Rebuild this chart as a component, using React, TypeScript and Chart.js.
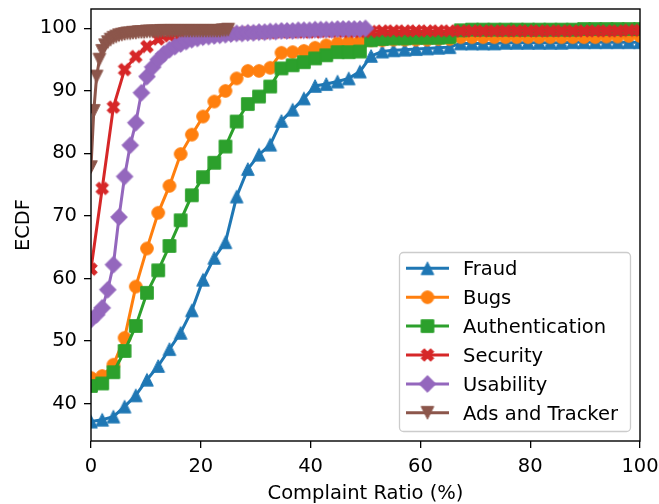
import React, { useEffect, useRef } from 'react';
import { Chart, registerables } from 'chart.js';

Chart.register(...registerables);

// x grids (complaint ratio %, 50 evaluation points per category)
const xFull = [0, 2.04, 4.08, 6.12, 8.16, 10.2, 12.24, 14.29, 16.33, 18.37, 20.41, 22.45, 24.49, 26.53, 28.57, 30.61, 32.65, 34.69, 36.73, 38.78, 40.82, 42.86, 44.9, 46.94, 48.98, 51.02, 53.06, 55.1, 57.14, 59.18, 61.22, 63.27, 65.31, 67.35, 69.39, 71.43, 73.47, 75.51, 77.55, 79.59, 81.63, 83.67, 85.71, 87.76, 89.8, 91.84, 93.88, 95.92, 97.96, 100];
const xUsability = [0, 1.02, 2.04, 3.06, 4.08, 5.1, 6.12, 7.14, 8.16, 9.18, 10.2, 11.22, 12.24, 13.27, 14.29, 15.31, 16.33, 17.35, 18.37, 19.39, 20.41, 21.43, 22.45, 23.47, 24.49, 25.51, 26.53, 27.55, 28.57, 29.59, 30.61, 31.63, 32.65, 33.67, 34.69, 35.71, 36.73, 37.76, 38.78, 39.8, 40.82, 41.84, 42.86, 43.88, 44.9, 45.92, 46.94, 47.96, 48.98, 50];
const xAds = [0, 0.51, 1.02, 1.53, 2.04, 2.55, 3.06, 3.57, 4.08, 4.59, 5.1, 5.61, 6.12, 6.63, 7.14, 7.65, 8.16, 8.67, 9.18, 9.69, 10.2, 10.71, 11.22, 11.73, 12.24, 12.76, 13.27, 13.78, 14.29, 14.8, 15.31, 15.82, 16.33, 16.84, 17.35, 17.86, 18.37, 18.88, 19.39, 19.9, 20.41, 20.92, 21.43, 21.94, 22.45, 22.96, 23.47, 23.98, 24.49, 25];

// ECDF values (%)
const fraud = [37.1, 37.4, 37.9, 39.5, 41.3, 43.8, 46.0, 48.7, 51.3, 54.9, 59.8, 63.3, 65.8, 73.1, 77.5, 79.8, 81.4, 85.2, 87.0, 88.8, 90.8, 91.1, 91.5, 92.0, 93.1, 95.6, 96.3, 96.5, 96.6, 96.7, 96.8, 96.9, 97.0, 97.6, 97.6, 97.6, 97.6, 97.7, 97.7, 97.7, 97.7, 97.7, 97.7, 97.8, 97.8, 97.8, 97.8, 97.8, 97.8, 97.8];
const bugs = [44.1, 44.4, 46.2, 50.5, 58.7, 64.8, 70.5, 74.8, 79.9, 83.0, 85.9, 88.3, 90.0, 92.0, 93.2, 93.2, 93.7, 96.1, 96.2, 96.4, 96.9, 97.3, 97.6, 97.8, 97.9, 98.1, 98.1, 98.2, 98.2, 98.2, 98.2, 98.3, 98.3, 98.6, 98.6, 98.6, 98.6, 98.6, 98.6, 98.6, 98.6, 98.6, 98.6, 98.6, 98.6, 98.6, 98.7, 98.7, 98.8, 98.8];
const authentication = [42.8, 43.2, 45.0, 48.4, 52.4, 57.7, 61.3, 65.2, 69.3, 73.3, 76.2, 78.5, 81.1, 85.1, 87.9, 89.1, 90.7, 93.6, 94.1, 94.6, 95.2, 95.7, 96.2, 96.2, 96.3, 98.1, 98.3, 98.4, 98.4, 98.5, 98.5, 98.5, 98.6, 99.7, 99.8, 99.8, 99.8, 99.8, 99.8, 99.8, 99.8, 99.8, 99.8, 99.8, 99.9, 99.9, 99.9, 99.9, 99.9, 99.9];
const security = [61.5, 74.4, 87.4, 93.4, 95.5, 97.1, 98.3, 98.8, 98.9, 99.0, 99.1, 99.1, 99.2, 99.2, 99.3, 99.3, 99.3, 99.4, 99.4, 99.4, 99.4, 99.5, 99.5, 99.5, 99.5, 99.5, 99.6, 99.6, 99.6, 99.6, 99.6, 99.6, 99.6, 99.6, 99.6, 99.6, 99.6, 99.6, 99.6, 99.6, 99.6, 99.6, 99.6, 99.6, 99.6, 99.6, 99.6, 99.6, 99.7, 99.7];
const usability = [53.4, 54.2, 55.3, 58.2, 62.2, 69.8, 76.3, 81.3, 84.9, 89.7, 92.3, 93.8, 95.0, 95.9, 96.6, 97.1, 97.5, 97.9, 98.2, 98.4, 98.6, 98.7, 98.8, 98.9, 99.0, 99.1, 99.2, 99.2, 99.3, 99.3, 99.4, 99.4, 99.5, 99.5, 99.6, 99.6, 99.6, 99.7, 99.7, 99.7, 99.8, 99.8, 99.8, 99.8, 99.9, 99.9, 99.9, 99.9, 99.9, 100];
const adsTracker = [77.8, 86.8, 92.3, 95.0, 96.4, 97.3, 97.8, 98.2, 98.5, 98.7, 98.9, 99.0, 99.1, 99.2, 99.2, 99.3, 99.3, 99.4, 99.4, 99.4, 99.5, 99.5, 99.5, 99.5, 99.5, 99.6, 99.6, 99.6, 99.6, 99.6, 99.6, 99.6, 99.6, 99.6, 99.6, 99.6, 99.6, 99.6, 99.6, 99.6, 99.6, 99.6, 99.6, 99.6, 99.6, 99.6, 99.6, 99.7, 99.7, 99.8];

const seriesNames = ['Fraud', 'Bugs', 'Authentication', 'Security', 'Usability', 'Ads and Tracker'];
const seriesX = [xFull, xFull, xFull, xFull, xUsability, xAds];
const seriesY = [fraud, bugs, authentication, security, usability, adsTracker];
const seriesColors = ['#1f77b4', '#ff7f0e', '#2ca02c', '#d62728', '#9467bd', '#8c564b'];
const seriesMarkers = ['triUp', 'circle', 'square', 'xFilled', 'diamond', 'triDown'];

const xTicks = [0, 20, 40, 60, 80, 100];
const yTicks = [40, 50, 60, 70, 80, 90, 100];
const xLabel = 'Complaint Ratio (%)';
const yLabel = 'ECDF';

const FONT = '"DejaVu Sans", sans-serif';
const FS = 19.5;
const MS = 12.6;

function makeMarker(shape: string, color: string): HTMLCanvasElement {
  const S = 22;
  const c = document.createElement('canvas');
  c.width = S;
  c.height = S;
  const g = c.getContext('2d')!;
  g.translate(S / 2, S / 2);
  g.fillStyle = color;
  g.strokeStyle = color;
  g.lineWidth = 1;
  g.lineJoin = 'miter';
  const h = MS / 2;
  g.beginPath();
  if (shape === 'circle') {
    g.arc(0, 0, h, 0, Math.PI * 2);
  } else if (shape === 'square') {
    g.rect(-h, -h, 2 * h, 2 * h);
  } else if (shape === 'triUp') {
    g.moveTo(0, -h);
    g.lineTo(-h, h);
    g.lineTo(h, h);
    g.closePath();
  } else if (shape === 'triDown') {
    g.moveTo(0, h);
    g.lineTo(-h, -h);
    g.lineTo(h, -h);
    g.closePath();
  } else if (shape === 'diamond') {
    const d = h * 1.33;
    g.moveTo(0, -d);
    g.lineTo(d, 0);
    g.lineTo(0, d);
    g.lineTo(-d, 0);
    g.closePath();
  } else if (shape === 'xFilled') {
    const s = (MS + 0.8) / 6;
    const pts = [[-1, -3], [1, -3], [1, -1], [3, -1], [3, 1], [1, 1], [1, 3], [-1, 3], [-1, 1], [-3, 1], [-3, -1], [-1, -1]];
    const r = Math.PI / 4;
    pts.forEach(([px, py], i) => {
      const xx = (px * Math.cos(r) - py * Math.sin(r)) * s;
      const yy = (px * Math.sin(r) + py * Math.cos(r)) * s;
      if (i === 0) g.moveTo(xx, yy);
      else g.lineTo(xx, yy);
    });
    g.closePath();
  }
  g.fill();
  g.stroke();
  return c;
}

export default function App() {
  const ref = useRef<HTMLCanvasElement | null>(null);

  useEffect(() => {
    if (!ref.current) return;
    const markers = seriesMarkers.map((m, i) => makeMarker(m, seriesColors[i]));

    const datasets = seriesNames.map((name, i) => ({
      label: name,
      data: seriesX[i].map((x, j) => ({ x, y: seriesY[i][j] })),
      borderColor: seriesColors[i],
      backgroundColor: seriesColors[i],
      borderWidth: 3,
      tension: 0,
      pointStyle: markers[i] as any,
      pointRadius: 6,
      pointHoverRadius: 6,
      clip: 0,
      order: seriesNames.length - i,
    }));

    const framePlugin = {
      id: 'frameAndLegend',
      afterDatasetsDraw(chart: any) {
        const { ctx, chartArea: a } = chart;
        ctx.save();
        ctx.strokeStyle = '#000';
        ctx.lineWidth = 1.4;
        ctx.strokeRect(a.left, a.top, a.right - a.left, a.bottom - a.top);
        ctx.restore();
      },
      afterDraw(chart: any) {
        const { ctx, chartArea: a } = chart;
        ctx.save();
        // axis titles
        ctx.fillStyle = '#000';
        ctx.font = `${FS}px ${FONT}`;
        ctx.textAlign = 'center';
        ctx.textBaseline = 'alphabetic';
        ctx.fillText(xLabel, (a.left + a.right) / 2, 498.5);
        ctx.save();
        ctx.translate(29, (a.top + a.bottom) / 2);
        ctx.rotate(-Math.PI / 2);
        ctx.fillText(yLabel, 0, 0);
        ctx.restore();

        // legend
        const bx = 399.5, by = 252.5, bw = 231, bh = 179;
        ctx.beginPath();
        (ctx as any).roundRect(bx, by, bw, bh, 4);
        ctx.fillStyle = 'rgba(255,255,255,0.8)';
        ctx.fill();
        ctx.strokeStyle = '#cccccc';
        ctx.lineWidth = 1.3;
        ctx.stroke();
        seriesNames.forEach((name, i) => {
          const cy = 268.3 + i * 28.9;
          ctx.beginPath();
          ctx.strokeStyle = seriesColors[i];
          ctx.lineWidth = 3;
          ctx.moveTo(406, cy);
          ctx.lineTo(449, cy);
          ctx.stroke();
          const m = markers[i];
          ctx.drawImage(m, 427.5 - m.width / 2, cy - m.height / 2);
          ctx.fillStyle = '#000';
          ctx.textAlign = 'left';
          ctx.font = `${FS}px ${FONT}`;
          ctx.fillText(name, 463, cy + 7.1);
        });
        ctx.restore();
      },
    };

    const chart = new Chart(ref.current, {
      type: 'line',
      data: { datasets },
      options: {
        animation: false,
        responsive: false,
        devicePixelRatio: 1,
        layout: { padding: { top: 5, right: 19, left: 0, bottom: 0 } },
        plugins: { legend: { display: false }, tooltip: { enabled: false } },
        events: [],
        scales: {
          x: {
            type: 'linear',
            min: 0,
            max: 100,
            afterBuildTicks: (s: any) => { s.ticks = xTicks.map((v) => ({ value: v })); },
            afterFit: (s: any) => { s.height = 63; s.paddingLeft = 0; s.paddingRight = 0; },
            grid: { drawOnChartArea: false, drawTicks: true, tickLength: 7, color: '#000', lineWidth: 1.3 },
            border: { display: false },
            ticks: { color: '#000', padding: 7, maxRotation: 0, autoSkip: false, font: { family: FONT, size: FS } },
          },
          y: {
            type: 'linear',
            min: 34.0,
            max: 103.1,
            afterBuildTicks: (s: any) => { s.ticks = yTicks.map((v) => ({ value: v })); },
            afterFit: (s: any) => { s.width = 91; s.paddingTop = 0; s.paddingBottom = 0; },
            grid: { drawOnChartArea: false, drawTicks: true, tickLength: 7, color: '#000', lineWidth: 1.3 },
            border: { display: false },
            ticks: { color: '#000', padding: 7, autoSkip: false, font: { family: FONT, size: FS } },
          },
        },
      },
      plugins: [framePlugin],
    });
    return () => chart.destroy();
  }, []);

  return (
    <div style={{ position: 'fixed', left: 0, top: 0, width: 659, height: 504, background: '#fff' }}>
      <canvas ref={ref} width={659} height={504} style={{ width: 659, height: 504, display: 'block' }} />
    </div>
  );
}
